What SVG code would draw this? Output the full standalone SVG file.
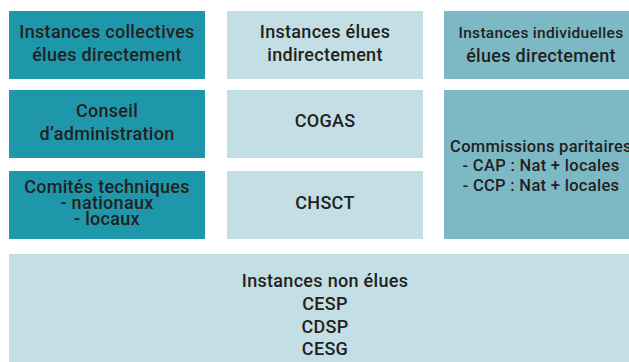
<svg xmlns="http://www.w3.org/2000/svg" width="629" height="362" viewBox="0 0 629 362">
<style>
.dark{fill:#1f97ab}
.light{fill:#c3dee4}
.mid{fill:#7cb9c5}
text{font-family:Roboto,"Liberation Sans",sans-serif;font-size:18px;font-weight:500;fill:#231f20;text-anchor:middle;letter-spacing:0.3px}
.sm{font-size:15.5px}
.md{font-size:16.5px}
</style>
<rect width="629" height="362" fill="#ffffff"/>
<g id="collectives">
<rect class="dark" x="9" y="11" width="196" height="68"/>
<text x="107" y="38">Instances collectives</text>
<text x="107" y="61">élues directement</text>
</g>
<g id="indirectes">
<rect class="light" x="227" y="11" width="196" height="68"/>
<text x="325" y="38">Instances élues</text>
<text x="325" y="61">indirectement</text>
</g>
<g id="individuelles">
<rect class="mid" x="444" y="11" width="194" height="68"/>
<text class="sm" x="541" y="38">Instances individuelles</text>
<text x="541" y="62">élues directement</text>
</g>
<g id="conseil">
<rect class="dark" x="9" y="90" width="196" height="68"/>
<text x="107" y="117">Conseil</text>
<text x="107" y="140">d’administration</text>
</g>
<g id="cogas">
<rect class="light" x="227" y="90" width="196" height="68"/>
<text x="325" y="127">COGAS</text>
</g>
<g id="comites">
<rect class="dark" x="9" y="171" width="196" height="68"/>
<text x="107" y="193">Comités techniques</text>
<text x="107" y="209">- nationaux</text>
<text x="107" y="225">- locaux</text>
</g>
<g id="chsct">
<rect class="light" x="227" y="171" width="196" height="68"/>
<text x="325" y="209">CHSCT</text>
</g>
<g id="commissions">
<rect class="mid" x="444" y="90" width="194" height="149"/>
<text class="md" x="541" y="152">Commissions paritaires</text>
<text class="md" x="541" y="171">- CAP : Nat + locales</text>
<text class="md" x="541" y="191">- CCP : Nat + locales</text>
</g>
<g id="non-elues">
<rect class="light" x="9" y="254" width="629" height="110"/>
<text x="325" y="287">Instances non élues</text>
<text x="325" y="310">CESP</text>
<text x="325" y="333">CDSP</text>
<text x="325" y="355">CESG</text>
</g>
<g id="connectors"/>
</svg>
